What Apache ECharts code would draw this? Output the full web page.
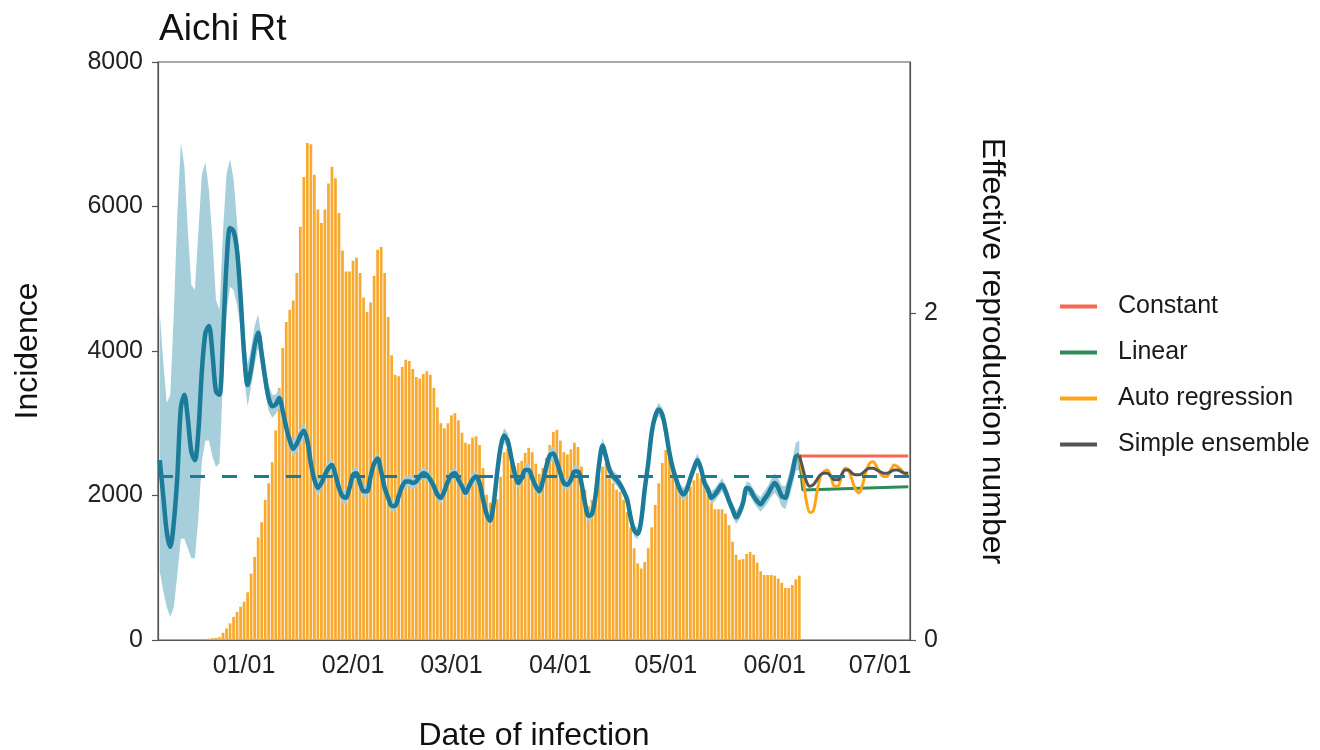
<!DOCTYPE html>
<html>
<head>
<meta charset="utf-8">
<title>Aichi Rt</title>
<script src="https://cdn.jsdelivr.net/npm/echarts@6/dist/echarts.min.js"></script>
<style>
  html, body { margin: 0; padding: 0; background: #fff; }
  #main { width: 1320px; height: 750px; }
</style>
</head>
<body>
<div id="main"></div>
<script>
// days from 12/08 to 07/09
var startDay = Date.UTC(2021, 11, 8);
var nDays = 214;
var categories = [];
for (var k = 0; k < nDays; k++) {
    var d = new Date(startDay + k * 86400000);
    categories.push(bl(d.getUTCMonth() + 1) + '/' + bl(d.getUTCDate()));
}

// daily incidence, starting 12/22
var incidenceFrom = '12/22';
var incidence = [
    20, 25, 30, 40, 100, 160, 230, 320, 390, 460,
    530, 660, 920, 1150, 1420, 1630, 1940, 2170, 2460, 2900,
    3490, 4040, 4400, 4570, 4700, 5080, 5720, 6410, 6880, 6860,
    6440, 5960, 5770, 5960, 6320, 6550, 6390, 5910, 5390, 5100,
    5100, 5250, 5290, 5080, 4740, 4540, 4670, 5040, 5400, 5440,
    5080, 4470, 3940, 3670, 3650, 3780, 3880, 3860, 3750, 3640,
    3620, 3680, 3720, 3670, 3490, 3220, 3000, 2930, 3000, 3110,
    3140, 3040, 2870, 2730, 2710, 2800, 2820, 2700, 2380, 2010,
    1900, 1880, 1950, 2260, 2600, 2650, 2500, 2400, 2450, 2480,
    2590, 2660, 2600, 2440, 2300, 2380, 2520, 2700, 2880, 2910,
    2760, 2600, 2570, 2640, 2730, 2670, 2400, 2080, 1850, 1940,
    2110, 2260, 2400, 2450, 2240, 2170, 2080, 2050, 1940, 1770,
    1560, 1270, 1060, 990, 1080, 1270, 1560, 1870, 2170, 2450,
    2630, 2550, 2350, 2170, 2050, 2010, 2030, 2120, 2210, 2310,
    2240, 2150, 2010, 1900, 1810, 1810, 1810, 1750, 1590, 1360,
    1180, 1110, 1120, 1190, 1220, 1180, 1070, 950, 900, 900,
    900, 890, 850, 790, 720, 720, 760, 840, 890
];

// estimated Rt, 12/08 .. 06/08
var rtFrom = '12/08';
var rtMean = [
    1.10, 0.88, 0.66, 0.57, 0.72, 1.00, 1.42, 1.50, 1.35, 1.15,
    1.10, 1.28, 1.65, 1.88, 1.92, 1.75, 1.52, 1.50, 1.85, 2.30,
    2.52, 2.50, 2.38, 2.10, 1.75, 1.56, 1.66, 1.80, 1.88, 1.75,
    1.60, 1.48, 1.43, 1.44, 1.48, 1.40, 1.30, 1.22, 1.17, 1.20,
    1.25, 1.28, 1.22, 1.08, 0.98, 0.93, 0.96, 1.01, 1.05, 1.07,
    1.01, 0.93, 0.88, 0.87, 0.93, 1.01, 1.02, 0.96, 0.91, 0.91,
    1.00, 1.08, 1.11, 1.03, 0.93, 0.87, 0.82, 0.82, 0.88, 0.94,
    0.97, 0.97, 0.96, 0.97, 1.00, 1.02, 1.01, 0.98, 0.94, 0.89,
    0.87, 0.91, 0.97, 1.01, 1.02, 0.98, 0.94, 0.90, 0.94, 0.98,
    1.00, 0.96, 0.86, 0.77, 0.73, 0.83, 1.02, 1.18, 1.25, 1.22,
    1.12, 1.02, 0.96, 0.99, 1.04, 1.04, 0.99, 0.94, 0.91, 0.97,
    1.06, 1.13, 1.14, 1.09, 1.02, 0.96, 0.95, 0.98, 1.03, 1.03,
    0.96, 0.84, 0.76, 0.77, 0.88, 1.07, 1.19, 1.12, 1.04, 1.00,
    0.98, 0.95, 0.91, 0.86, 0.75, 0.67, 0.65, 0.73, 0.92, 1.08,
    1.27, 1.37, 1.41, 1.38, 1.28, 1.15, 1.05, 0.98, 0.92, 0.89,
    0.92, 0.99, 1.05, 1.10, 1.05, 0.96, 0.92, 0.87, 0.89, 0.92,
    0.95, 0.91, 0.85, 0.80, 0.75, 0.78, 0.84, 0.93, 0.92, 0.88,
    0.85, 0.83, 0.86, 0.89, 0.93, 0.96, 0.93, 0.88, 0.87, 0.94,
    1.02, 1.12, 1.13
];

// credible interval: wide first 30 days, then a half width
var ciLowEarly = [
    0.42, 0.30, 0.20, 0.14, 0.20, 0.40, 0.62, 0.62, 0.56, 0.50,
    0.50, 0.75, 1.10, 1.22, 1.22, 1.12, 1.06, 1.08, 1.60, 2.00,
    2.16, 2.14, 2.05, 1.90, 1.60, 1.43, 1.55, 1.68, 1.79, 1.65
];
var ciHighEarly = [
    2.00, 1.70, 1.45, 1.50, 2.00, 2.60, 3.04, 2.90, 2.50, 2.17,
    2.14, 2.50, 2.85, 2.92, 2.75, 2.45, 2.08, 2.02, 2.50, 2.85,
    2.94, 2.82, 2.55, 2.25, 1.90, 1.69, 1.78, 1.92, 1.99, 1.85
];
var ciHalfLate = [
    0.09, 0.08, 0.07, 0.06, 0.06, 0.05,
    0.05, 0.05, 0.05, 0.05, 0.05, 0.05, 0.05, 0.05, 0.05, 0.05,
    0.04, 0.04, 0.04, 0.04, 0.04, 0.04, 0.04, 0.04, 0.04, 0.04, 0.04, 0.04, 0.04, 0.04, 0.04,
    0.035, 0.035, 0.035, 0.035, 0.035, 0.035, 0.035, 0.035, 0.035, 0.035, 0.035, 0.035,
    0.035, 0.035, 0.035, 0.035, 0.035, 0.035, 0.035, 0.035, 0.035, 0.035, 0.035, 0.035,
    0.035, 0.035, 0.035, 0.035, 0.035, 0.035, 0.035, 0.035, 0.035, 0.035, 0.035, 0.035,
    0.045, 0.045, 0.045,
    0.035, 0.035, 0.035, 0.035, 0.035, 0.035, 0.035, 0.035, 0.035, 0.035, 0.035,
    0.045, 0.045, 0.045,
    0.035, 0.035, 0.035, 0.035, 0.035, 0.035, 0.035, 0.035, 0.035, 0.035, 0.035,
    0.045, 0.045, 0.045,
    0.035, 0.035, 0.035, 0.035, 0.035, 0.035, 0.035, 0.035, 0.035, 0.035, 0.035,
    0.045, 0.045,
    0.04, 0.04, 0.04, 0.04, 0.04, 0.04, 0.04, 0.04, 0.04, 0.04,
    0.04, 0.04, 0.04, 0.04, 0.04, 0.04, 0.04, 0.04, 0.04, 0.04,
    0.04, 0.04, 0.04, 0.04, 0.04, 0.04, 0.04, 0.04, 0.04, 0.04,
    0.045, 0.05, 0.05, 0.055, 0.06, 0.06, 0.065, 0.07, 0.075, 0.08, 0.085, 0.09
];

// forecasts, 06/08 .. 07/09
var forecastFrom = '06/08';
var autoRegRt = [
    1.13, 1.00, 0.85, 0.78, 0.79, 0.90, 1.00, 1.03, 1.04, 1.00,
    0.94, 0.94, 1.00, 1.05, 1.04, 0.98, 0.92, 0.90, 0.95, 1.03,
    1.08, 1.09, 1.06, 1.02, 1.00, 1.00, 1.04, 1.07, 1.06, 1.04,
    1.02, 1.02
];
var ensembleRt = [
    1.13, 1.05, 0.97, 0.94, 0.95, 0.98, 1.01, 1.02, 1.02, 1.00,
    0.98, 0.98, 1.01, 1.04, 1.04, 1.02, 1.01, 1.01, 1.02, 1.04,
    1.05, 1.05, 1.04, 1.03, 1.02, 1.02, 1.03, 1.04, 1.04, 1.03,
    1.02, 1.02
];
var constantDays = ['06/08', '07/09'];
var constantRt = [1.125, 1.125];
var linearDays = ['06/08', '06/09', '07/09'];
var linearRt = [1.13, 0.917, 0.937];

var fontFamily = '"Liberation Sans", Arial, Helvetica, sans-serif';
var axisColor = '#555';
var rtColor = '#1B7B98';

function bl(n) {
    if (n < 10) { return '0' + n; }
    else { return '' + n; }
}

// put a list of daily values onto the full date axis
function place(from, values) {
    var res = [];
    var off = categories.indexOf(from);
    for (var i = 0; i < categories.length; i++) {
        var j = i - off;
        res.push(j >= 0 && j < values.length ? values[j] : null);
    }
    return res;
}

var ciLow = [], ciSpan = [];
for (var i = 0; i < rtMean.length; i++) {
    var lo, hi;
    if (i < ciLowEarly.length) {
        lo = ciLowEarly[i];
        hi = ciHighEarly[i];
    } else {
        lo = rtMean[i] - ciHalfLate[i - ciLowEarly.length];
        hi = rtMean[i] + ciHalfLate[i - ciLowEarly.length];
    }
    ciLow.push(+lo.toFixed(3));
    ciSpan.push(+(hi - lo).toFixed(3));
}

function isMonthStart(index, value) {
    return value.slice(3) === '01';
}

var myChart = echarts.init(document.getElementById('main'));
var option = {
    backgroundColor: '#fff',
    animation: false,
    textStyle: { fontFamily: fontFamily },
    title: {
        text: 'Aichi Rt',
        left: 154,
        top: 6,
        textStyle: { fontSize: 37, fontWeight: 'normal', color: '#111', fontFamily: fontFamily }
    },
    legend: {
        data: ['Constant', 'Linear', 'Auto regression', 'Simple ensemble'],
        orient: 'vertical',
        left: 1055,
        top: 289,
        icon: 'rect',
        itemWidth: 37,
        itemHeight: 4,
        itemGap: 21,
        textStyle: {
            fontSize: 25,
            lineHeight: 25,
            color: '#1a1a1a',
            fontFamily: fontFamily,
            padding: [0, 0, 0, 16]
        }
    },
    grid: {
        left: 158,
        right: 410,
        top: 62,
        bottom: 110,
        outerBoundsMode: 'none',
        show: true,
        borderColor: axisColor,
        borderWidth: 1.2,
        backgroundColor: 'transparent'
    },
    xAxis: {
        type: 'category',
        data: categories,
        boundaryGap: true,
        name: 'Date of infection',
        nameLocation: 'middle',
        nameGap: 80,
        nameTextStyle: { fontSize: 32, color: '#111', fontFamily: fontFamily },
        axisLine: { lineStyle: { color: axisColor, width: 1.2 } },
        axisTick: {
            alignWithLabel: true,
            interval: isMonthStart,
            length: 6,
            lineStyle: { color: axisColor, width: 1.2 }
        },
        axisLabel: {
            interval: isMonthStart,
            fontSize: 25,
            color: '#222',
            margin: 14
        },
        splitLine: { show: false }
    },
    yAxis: [
        {
            type: 'value',
            min: 0,
            max: 8000,
            interval: 2000,
            name: 'Incidence',
            nameLocation: 'middle',
            nameGap: 114,
            nameTextStyle: { fontSize: 32, color: '#111', fontFamily: fontFamily },
            axisLine: { show: true, lineStyle: { color: axisColor, width: 1.2 } },
            axisTick: { show: true, length: 6, lineStyle: { color: axisColor, width: 1.2 } },
            axisLabel: {
                fontSize: 25,
                color: '#222',
                margin: 15,
                formatter: function (v) { return String(v); }
            },
            splitLine: { show: false }
        },
        {
            type: 'value',
            position: 'right',
            min: 0,
            max: 3.535,
            name: 'Effective reproduction number',
            nameLocation: 'middle',
            nameRotate: -90,
            nameGap: 66,
            nameTextStyle: { fontSize: 32, color: '#111', fontFamily: fontFamily },
            axisLine: { show: true, lineStyle: { color: axisColor, width: 1.2 } },
            axisTick: { show: true, length: 6, customValues: [0, 2], lineStyle: { color: axisColor, width: 1.2 } },
            axisLabel: { fontSize: 25, color: '#222', margin: 14, customValues: [0, 2] },
            splitLine: { show: false }
        }
    ],
    series: [
        {
            name: 'Incidence',
            type: 'bar',
            yAxisIndex: 0,
            data: place(incidenceFrom, incidence),
            barCategoryGap: '22%',
            itemStyle: { color: '#F8AA30' },
            silent: true,
            z: 1
        },
        {
            name: 'ciLow',
            type: 'line',
            yAxisIndex: 1,
            stack: 'ci',
            data: place(rtFrom, ciLow),
            symbol: 'none',
            lineStyle: { opacity: 0 },
            silent: true,
            z: 2
        },
        {
            name: 'ciBand',
            type: 'line',
            yAxisIndex: 1,
            stack: 'ci',
            data: place(rtFrom, ciSpan),
            symbol: 'none',
            lineStyle: { opacity: 0 },
            areaStyle: { color: '#A6CEDB', opacity: 1 },
            silent: true,
            z: 2
        },
        {
            name: 'Rt',
            type: 'line',
            yAxisIndex: 1,
            data: place(rtFrom, rtMean),
            smooth: 0.3,
            symbol: 'none',
            lineStyle: { color: rtColor, width: 4.5 },
            z: 3,
            markLine: {
                silent: true,
                symbol: ['none', 'none'],
                label: { show: false },
                lineStyle: { color: rtColor, width: 3, type: [15, 17] },
                data: [{ yAxis: 1 }],
                z: 6
            }
        },
        {
            name: 'Constant',
            type: 'line',
            yAxisIndex: 1,
            data: constantDays.map(function (c, n) { return [c, constantRt[n]]; }),
            symbol: 'none',
            itemStyle: { color: '#F4694F' },
            lineStyle: { color: '#F4694F', width: 3 },
            z: 4
        },
        {
            name: 'Linear',
            type: 'line',
            yAxisIndex: 1,
            data: linearDays.map(function (c, n) { return [c, linearRt[n]]; }),
            symbol: 'none',
            itemStyle: { color: '#2E8B57' },
            lineStyle: { color: '#2E8B57', width: 3 },
            z: 4
        },
        {
            name: 'Auto regression',
            type: 'line',
            yAxisIndex: 1,
            data: place(forecastFrom, autoRegRt),
            smooth: 0.3,
            symbol: 'none',
            itemStyle: { color: '#FFA514' },
            lineStyle: { color: '#FFA514', width: 3 },
            z: 4
        },
        {
            name: 'Simple ensemble',
            type: 'line',
            yAxisIndex: 1,
            data: place(forecastFrom, ensembleRt),
            smooth: 0.3,
            symbol: 'none',
            itemStyle: { color: '#545454' },
            lineStyle: { color: '#545454', width: 3 },
            z: 5
        }
    ]
};
myChart.setOption(option);
</script>
</body>
</html>
